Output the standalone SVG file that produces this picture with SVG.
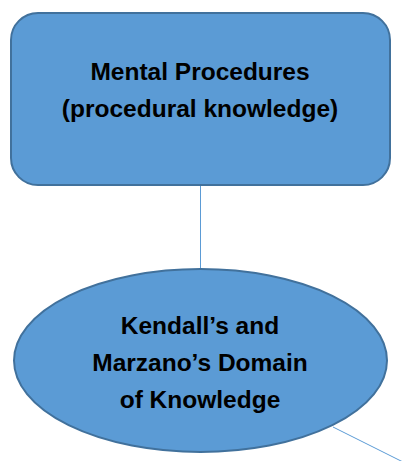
<svg xmlns="http://www.w3.org/2000/svg" width="417" height="461" viewBox="0 0 417 461">
<style>
.shape{fill:#5B9BD5;stroke:#41719C;stroke-width:2}
.conn{stroke:#5B9BD5;stroke-width:1;fill:none}
.lbl{font-family:"Liberation Sans",Arial,sans-serif;font-weight:bold;font-size:24.5px;fill:#000;text-anchor:middle}
</style>
<rect width="417" height="461" fill="#fff"/>
<g id="connectors">
<line class="conn" x1="200.5" y1="186" x2="200.5" y2="269"/>
<line class="conn" x1="333" y1="427" x2="403" y2="462"/>
</g>
<g id="node-mental">
<rect class="shape" x="11" y="13" width="379" height="172" rx="27" ry="27"/>
<text class="lbl" x="200" y="80">Mental Procedures</text>
<text class="lbl" x="200" y="117">(procedural knowledge)</text>
</g>
<g id="node-domain">
<ellipse class="shape" cx="200.5" cy="360.5" rx="186.5" ry="91.5"/>
<text class="lbl" x="200" y="334">Kendall’s and</text>
<text class="lbl" x="200" y="371">Marzano’s Domain</text>
<text class="lbl" x="200" y="408">of Knowledge</text>
</g>
</svg>
